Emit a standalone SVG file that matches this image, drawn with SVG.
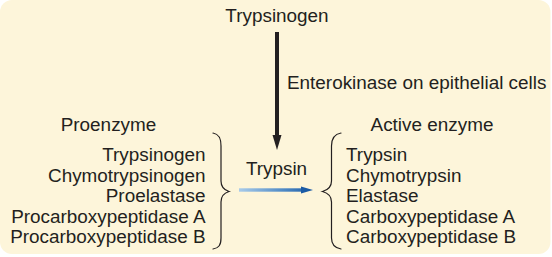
<svg xmlns="http://www.w3.org/2000/svg" width="552" height="257" viewBox="0 0 552 257">
  <style>
    text { font-family: "Liberation Sans", Arial, Helvetica, sans-serif; font-size: 18.9px; fill: #231f20; }
    .mid { text-anchor: middle; }
    .end { text-anchor: end; }
    .brace { fill: none; stroke: #231f20; stroke-width: 1.2; stroke-linecap: round; }
  </style>
  <defs>
    <linearGradient id="blueGrad" gradientUnits="userSpaceOnUse" x1="239" y1="0" x2="313" y2="0">
      <stop offset="0" stop-color="#a8cbea"/>
      <stop offset="0.6" stop-color="#4f8ac6"/>
      <stop offset="1" stop-color="#1b5ba5"/>
    </linearGradient>
  </defs>
  <rect id="background" x="0" y="0" width="550.5" height="254" rx="12" ry="12" fill="#fdf5da"/>

  <g id="trypsinogen-top">
    <text class="mid" x="277" y="21.5">Trypsinogen</text>
  </g>
  <g id="enterokinase-label">
    <text x="287" y="89">Enterokinase on epithelial cells</text>
  </g>
  <g id="proenzyme">
    <text class="mid" x="108.5" y="131">Proenzyme</text>
    <text class="end" x="205.5" y="161">Trypsinogen</text>
    <text class="end" x="205.5" y="181.5">Chymotrypsinogen</text>
    <text class="end" x="205.5" y="202">Proelastase</text>
    <text class="end" x="205.5" y="222.5">Procarboxypeptidase A</text>
    <text class="end" x="205.5" y="243">Procarboxypeptidase B</text>
  </g>
  <g id="trypsin-center">
    <text class="mid" x="276.5" y="175">Trypsin</text>
  </g>
  <g id="active-enzyme">
    <text class="mid" x="432" y="131">Active enzyme</text>
    <text x="346" y="161">Trypsin</text>
    <text x="346" y="181.5">Chymotrypsin</text>
    <text x="346" y="202">Elastase</text>
    <text x="346" y="222.5">Carboxypeptidase A</text>
    <text x="346" y="243">Carboxypeptidase B</text>
  </g>

  <g id="connectors">
    <g id="enterokinase-arrow">
      <line x1="277" y1="32" x2="277" y2="137" stroke="#231f20" stroke-width="4"/>
      <polygon points="272.5,135 281.5,135 277,150" fill="#231f20"/>
    </g>
    <g id="trypsin-arrow">
      <rect x="239" y="188.3" width="64" height="3.4" fill="url(#blueGrad)"/>
      <polygon points="301,186.5 313,190 301,193.5" fill="#1b5ba5"/>
    </g>
    <path id="left-brace" class="brace" d="M213,133 C219,134 221,138 221,146 L221,181 C221,187 224,190 229,191.5 C224,193 221,196 221,202 L221,238 C221,245 219,248 213,249"/>
    <path id="right-brace" class="brace" d="M341,133 C335,134 331.5,138 331.5,146 L331.5,181 C331.5,187 328,190 322.5,191.5 C328,193 331.5,196 331.5,202 L331.5,238 C331.5,245 335,248 341,249"/>
  </g>
</svg>
